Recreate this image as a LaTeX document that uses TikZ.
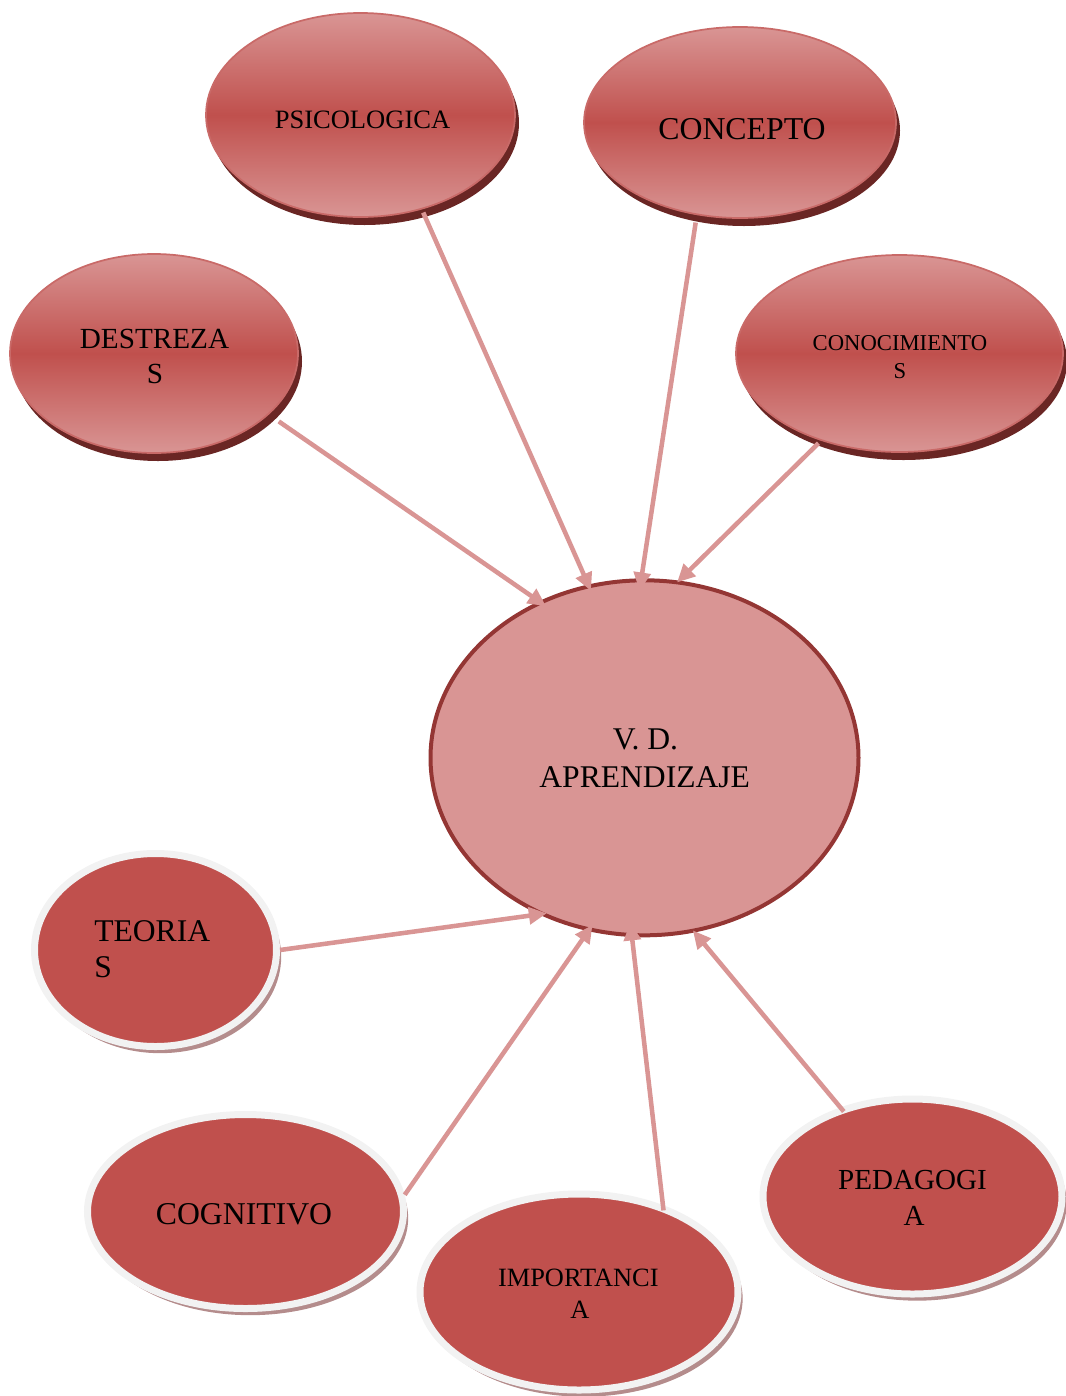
\documentclass[tikz,border=0pt]{standalone}
\usepackage{fontspec}
\setmainfont{Liberation Serif}
\usetikzlibrary{shapes.geometric,shadows,arrows.meta}
\definecolor{accent}{HTML}{C0504D}
\definecolor{accentlight}{HTML}{D99594}
\definecolor{accentdark}{HTML}{943634}
\definecolor{shadowdark}{HTML}{6A2624}
\definecolor{ringgray}{HTML}{F2F2F2}
\definecolor{shadowpink}{HTML}{B48C8C}
\tikzset{
  topell/.style={ellipse, inner sep=0pt, draw=accent!85!white, line width=1.3pt,
    top color=accentlight, bottom color=accentlight, middle color=accent,
    drop shadow={shadow xshift=3pt, shadow yshift=-6pt, fill=shadowdark, opacity=1}},
  botell/.style={ellipse, inner sep=0pt, fill=accent, draw=ringgray, line width=5.25pt,
    drop shadow={shadow xshift=3.5pt, shadow yshift=-5pt, fill=shadowpink, opacity=1}},
  ctrell/.style={ellipse, inner sep=0pt, fill=accentlight, draw=accentdark, line width=3pt},
  conn/.style={draw=accentlight, line width=3.4pt,
    -{Triangle[length=13.5pt,width=12.5pt]}},
  lbl/.style={inner sep=0pt, anchor=base, text=black}
}
\begin{document}
\begin{tikzpicture}[x=0.75pt,y=-0.75pt]
\useasboundingbox (0,0) rectangle (1065,1396);
% top nodes
\node[topell, minimum width=231.75pt, minimum height=153pt] (psi) at (360.5,115) {};
\node[topell, minimum width=234pt, minimum height=143.25pt] (con) at (740,122.5) {};
\node[topell, minimum width=216pt, minimum height=149.25pt] (des) at (154,353.5) {};
\node[topell, minimum width=245.25pt, minimum height=147.75pt] (cono) at (899.5,353.5) {};
% central
\node[ctrell, minimum width=321pt, minimum height=266.25pt] (c) at (644.5,757.8) {};
% bottom nodes
\node[botell, minimum width=181.5pt, minimum height=144.75pt] (teo) at (155.5,950) {};
\node[botell, minimum width=237pt, minimum height=145.5pt] (cog) at (245.5,1211.5) {};
\node[botell, minimum width=238.5pt, minimum height=147pt] (imp) at (579,1292) {};
\node[botell, minimum width=224.25pt, minimum height=146.25pt] (ped) at (912.5,1196.5) {};
% labels
\node[lbl, font=\fontsize{19.9}{24}\selectfont] (tpsi) at (362.5,128) {PSICOLOGICA};
\node[lbl, font=\fontsize{23.85}{28}\selectfont] (tcon) at (742,139) {CONCEPTO};
\node[lbl, font=\fontsize{21.9}{26}\selectfont] (tdes1) at (154.5,348.5) {DESTREZA};
\node[lbl, font=\fontsize{21.9}{26}\selectfont] (tdes2) at (155,383.3) {S};
\node[lbl, font=\fontsize{17}{20}\selectfont] (tcono1) at (900,350) {CONOCIMIENTO};
\node[lbl, font=\fontsize{17}{20}\selectfont] (tcono2) at (900,378.3) {S};
\node[lbl, font=\fontsize{23.7}{28}\selectfont] (tc1) at (645.5,749.3) {V. D.};
\node[lbl, font=\fontsize{23.7}{28}\selectfont] (tc2) at (644.7,787.3) {APRENDIZAJE};
\node[lbl, anchor=base west, font=\fontsize{23.7}{28}\selectfont] (tteo1) at (94,941.7) {TEORIA};
\node[lbl, anchor=base west, font=\fontsize{23.7}{28}\selectfont] (tteo2) at (94,977.7) {S};
\node[lbl, font=\fontsize{23.8}{28}\selectfont] (tcog) at (244,1224) {COGNITIVO};
\node[lbl, font=\fontsize{19.8}{24}\selectfont] (timp1) at (578.3,1286) {IMPORTANCI};
\node[lbl, font=\fontsize{19.8}{24}\selectfont] (timp2) at (580,1318.3) {A};
\node[lbl, font=\fontsize{21.8}{26}\selectfont] (tped1) at (912.5,1189) {PEDAGOGI};
\node[lbl, font=\fontsize{21.8}{26}\selectfont] (tped2) at (914,1225) {A};
% connectors
\draw[conn, shorten <=9pt, shorten >=-6.5pt] (des.-28.9) -- (c.124.6);
\draw[conn, shorten <=2.5pt, shorten >=-5.25pt] (psi.-57.9) -- (c.108.3);
\draw[conn, shorten <=5.6pt, shorten >=-9.2pt] (con.-115.3) -- (c.91.9);
\draw[conn, shorten <=2.6pt, shorten >=-2pt] (cono.-132.7) -- (c.79.4);
\draw[conn, shorten >=-6pt] (teo.0) -- (c.-124.7);
\draw[conn, shorten >=-5.7pt] (cog.6.7) -- (c.-108.8);
\draw[conn, shorten <=-4pt, shorten >=-11pt] (imp.46.1) -- (c.-94.3);
\draw[conn, shorten <=-4pt, shorten >=-2pt] (ped.129.4) -- (c.-74.1);
\end{tikzpicture}
\end{document}
